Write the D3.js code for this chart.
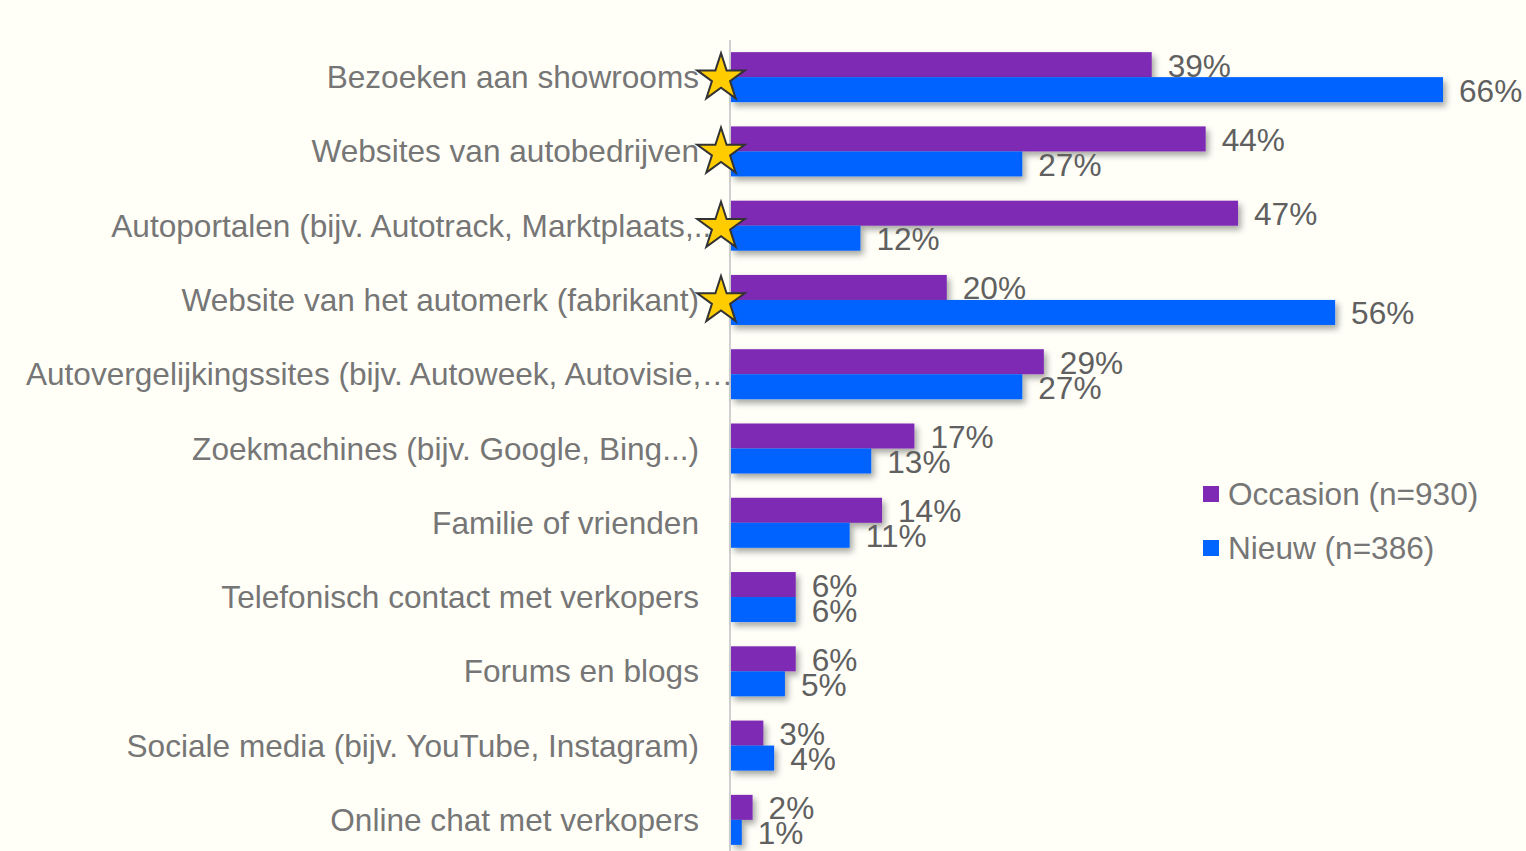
<!DOCTYPE html>
<html><head><meta charset="utf-8">
<script src="https://cdn.jsdelivr.net/npm/d3@7"></script>
<style>html,body{margin:0;padding:0;background:#fffff8;}svg{display:block;font-family:"Liberation Sans",Arial,sans-serif;}</style>
</head><body>
<svg id="c" width="1526" height="851"></svg>
<script>
const categories = [
  "Bezoeken aan showrooms",
  "Websites van autobedrijven",
  "Autoportalen (bijv. Autotrack, Marktplaats,...",
  "Website van het automerk (fabrikant)",
  "Autovergelijkingssites (bijv. Autoweek, Autovisie,…",
  "Zoekmachines (bijv. Google, Bing...)",
  "Familie of vrienden",
  "Telefonisch contact met verkopers",
  "Forums en blogs",
  "Sociale media (bijv. YouTube, Instagram)",
  "Online chat met verkopers"
];
const occasion = [39, 44, 47, 20, 29, 17, 14, 6, 6, 3, 2];
const nieuw    = [66, 27, 12, 56, 27, 13, 11, 6, 5, 4, 1];
const starred  = [true, true, true, true, false, false, false, false, false, false, false];
const seriesNames = ["Occasion (n=930)", "Nieuw (n=386)"];
const colors = ["#7e2ab5", "#0064ff"];

const FS = 31.6;
const svg = d3.select("#c");
const defs = svg.append("defs");
const f = defs.append("filter").attr("id","sh").attr("x","-10%").attr("y","-30%").attr("width","130%").attr("height","190%");
f.append("feDropShadow").attr("dx",3).attr("dy",4).attr("stdDeviation",3).attr("flood-color","#000").attr("flood-opacity",0.35);

const x0 = 731;
const x = d3.scaleLinear().domain([0, 66]).range([x0, 1443]);
const y = d3.scaleBand().domain(categories).range([40, 857]).padding(0);
const barH = 25;

// axis line
svg.append("line").attr("x1",730).attr("x2",730).attr("y1",40).attr("y2",851)
  .attr("stroke","#d0d0d0").attr("stroke-width",2);

const series = [occasion, nieuw];
series.forEach((vals, si) => {
  svg.append("g").attr("filter","url(#sh)").selectAll("rect").data(categories).enter().append("rect")
    .attr("x", x0)
    .attr("y", d => y(d) + y.bandwidth()/2 - barH + si*barH)
    .attr("width", (d,i) => x(vals[i]) - x0)
    .attr("height", barH)
    .attr("fill", colors[si]);
});
series.forEach((vals, si) => {
  svg.append("g").selectAll("text").data(categories).enter().append("text")
    .attr("x", (d,i) => x(vals[i]) + 16)
    .attr("y", (d) => y(d) + y.bandwidth()/2 - barH/2 + si*barH + 1)
    .attr("dominant-baseline","central")
    .attr("font-size", FS)
    .attr("fill", "#606060")
    .text((d,i) => vals[i] + "%");
});

// category labels (truncated labels run further right, under the star)
const labelX = d => d.endsWith("…") ? 733 : (d.endsWith(",...") ? 720 : 699);
svg.append("g").selectAll("text").data(categories).enter().append("text")
  .attr("x", labelX)
  .attr("y", d => y(d) + y.bandwidth()/2)
  .attr("text-anchor","end")
  .attr("dominant-baseline","central")
  .attr("font-size", FS)
  .attr("fill", "#767676")
  .text(d => d);

// stars
const star = d3.symbol().type(d3.symbolStar).size(700);
svg.append("g").selectAll("path").data(categories.filter((d,i)=>starred[i])).enter().append("path")
  .attr("d", star)
  .attr("transform", d => `translate(721,${y(d) + y.bandwidth()/2 + 1})`)
  .attr("fill","#ffcc00").attr("stroke","#333").attr("stroke-width",2).attr("stroke-linejoin","miter");

// legend
const lg = svg.append("g").selectAll("g").data(seriesNames).enter().append("g")
  .attr("transform", (d,i) => `translate(1203,${494 + i*54})`);
lg.append("rect").attr("x",0).attr("y",-8).attr("width",16).attr("height",16).attr("fill",(d,i)=>colors[i]);
lg.append("text").attr("x",25).attr("y",0).attr("dominant-baseline","central")
  .attr("font-size",FS).attr("fill","#767676").text(d=>d);
</script>
</body></html>
